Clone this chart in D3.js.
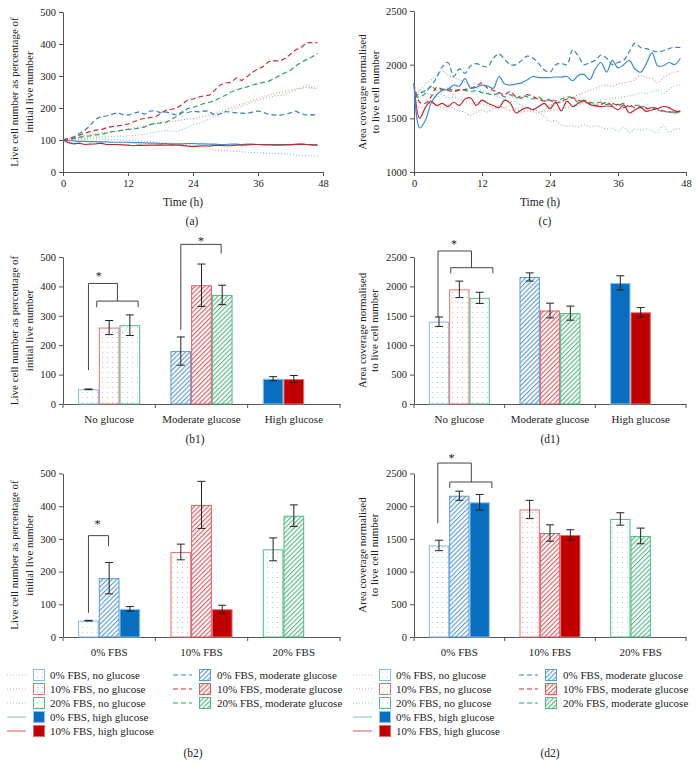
<!DOCTYPE html>
<html><head><meta charset="utf-8">
<script src="https://cdn.jsdelivr.net/npm/d3@7"></script>
<style>body{margin:0;background:#fff} svg text{font-family:"Liberation Serif","Times New Roman",serif;fill:#222}</style>
</head><body><svg id="fig" width="697" height="765"></svg>
<script>
// ---------------- DATA ----------------
const timeHours = [0,1,2,3,4,5,6,7,8,9,10,11,12,13,14,15,16,17,18,19,20,21,22,23,24,25,26,27,28,29,30,31,32,33,34,35,36,37,38,39,40,41,42,43,44,45,46,47];
const timeTicks = [0,12,24,36,48];

// (a) live cell number, % of initial
const liveBlueDot   = [100,101,101,102,102,103,103,102,102,101,101,100,99,98,97,96,95,94,93,91,90,88,87,86,84,81,77,72,69,67,66,65,64,63,62,61,60,59,58,58,57,56,55,53,52,51,50,50];
const liveRedDot    = [100,103,106,110,114,117,120,122,124,126,127,130,134,138,141,144,147,150,154,157,158,160,163,165,166,170,174,178,183,188,194,200,206,212,218,224,230,236,240,244,249,252,256,260,262,264,262,260];
const liveGreenDot  = [100,101,103,105,106,107,108,109,110,111,112,112,113,114,116,118,121,124,127,130,128,126,132,140,146,152,158,165,174,180,186,192,198,205,212,218,224,230,234,237,240,244,250,256,262,272,264,268];
const liveBlueDash  = [100,105,110,120,130,145,165,173,175,180,185,180,178,183,188,180,190,192,185,188,182,178,188,186,190,188,191,190,177,182,189,187,185,184,183,187,191,186,180,178,178,180,185,190,182,178,179,178];
const liveRedDash   = [100,104,108,115,121,126,131,132,138,142,144,146,150,157,163,168,170,172,183,193,196,199,212,225,228,234,238,240,255,272,278,280,294,286,298,312,322,330,345,348,346,355,368,382,390,404,404,404];
const liveGreenDash = [100,102,104,108,111,113,116,117,121,126,128,131,133,134,137,140,148,152,153,155,165,174,185,198,202,208,214,218,222,232,240,250,256,262,266,272,276,280,284,292,302,310,318,332,342,352,360,370];
const liveBlueSolid = [100,98,97,96,96,95,95,94,94,93,93,93,93,92,92,91,90,90,89,89,88,88,88,89,89,88,88,87,87,86,86,87,87,86,87,87,86,86,86,86,86,86,86,87,87,86,85,85];
const liveRedSolid  = [100,92,88,90,86,87,88,90,86,86,86,85,84,82,84,83,84,84,85,84,85,84,83,81,79,81,82,81,83,83,82,82,84,84,85,86,86,85,85,84,84,85,85,86,87,86,85,84];

// (c) area coverage normalised to live cell number
const areaBlueDot   = [1700,1760,1820,1860,1900,1940,1900,1880,1860,1840,1800,1780,1760,1740,1720,1700,1680,1660,1650,1620,1600,1580,1560,1520,1470,1480,1440,1430,1430,1420,1440,1420,1430,1420,1400,1410,1380,1420,1370,1400,1390,1400,1380,1370,1440,1370,1400,1400];
const areaRedDot    = [1650,1600,1620,1640,1620,1600,1620,1590,1570,1560,1530,1560,1580,1560,1590,1600,1590,1570,1580,1560,1570,1560,1550,1580,1620,1640,1650,1680,1700,1720,1740,1760,1780,1800,1810,1800,1820,1830,1840,1860,1900,1880,1870,1830,1880,1910,1930,1940];
const areaGreenDot  = [1720,1760,1740,1720,1700,1720,1690,1700,1680,1660,1640,1650,1630,1620,1610,1620,1600,1610,1590,1600,1590,1580,1570,1560,1570,1580,1590,1600,1610,1620,1640,1650,1660,1670,1680,1690,1690,1700,1710,1720,1740,1730,1750,1760,1730,1770,1800,1810];
const areaBlueDash  = [1700,1730,1760,1800,1880,1980,2020,1890,1960,1920,1990,2010,1990,1980,2060,2100,2050,2000,2000,2040,2080,2060,2010,1950,1930,2000,2010,2000,2140,2080,2000,2020,2040,2090,2060,2000,2020,2040,2120,2200,2160,2150,2130,2120,2130,2150,2160,2160];
const areaRedDash   = [1820,1650,1640,1700,1790,1770,1760,1750,1760,1770,1780,1800,1830,1780,1760,1740,1720,1750,1700,1690,1720,1700,1680,1660,1670,1640,1660,1680,1690,1670,1650,1640,1620,1630,1650,1620,1630,1600,1620,1600,1610,1590,1600,1590,1570,1560,1560,1570];
const areaGreenDash = [1700,1700,1730,1800,1760,1770,1780,1760,1770,1760,1750,1760,1740,1730,1720,1730,1700,1720,1690,1710,1700,1680,1700,1660,1680,1660,1680,1700,1690,1650,1670,1650,1640,1650,1630,1640,1620,1640,1610,1620,1620,1600,1600,1580,1560,1560,1550,1560];
const areaBlueSolid = [1820,1410,1480,1640,1720,1760,1770,1810,1800,1870,1780,1790,1810,1800,1780,1890,1820,1810,1820,1830,1860,1890,1880,1880,1880,1885,1885,1890,1850,1900,1910,1860,1960,2020,1930,2040,1970,2000,2040,1960,1930,2010,2110,1990,1990,2020,2000,2060];
const areaRedSolid  = [1830,1500,1600,1660,1620,1640,1610,1650,1620,1680,1690,1620,1670,1640,1620,1600,1670,1640,1550,1580,1600,1580,1610,1640,1590,1650,1570,1660,1610,1640,1660,1630,1615,1610,1615,1610,1580,1625,1550,1580,1600,1565,1580,1590,1610,1600,1570,1560];

// bar values (order: 0% FBS, 10% FBS, 20% FBS)
const glucoseCats = ["No glucose","Moderate glucose","High glucose"];
const fbsCats = ["0% FBS","10% FBS","20% FBS"];
const liveNoGlucose = [50,260,268];     const liveNoGlucoseErr = [1,24,35];
const liveModerate  = [180,404,371];    const liveModerateErr  = [48,72,33];
const liveHigh      = [86,85];          const liveHighErr      = [7,12];
const areaNoGlucose = [1400,1950,1805]; const areaNoGlucoseErr = [80,140,95];
const areaModerate  = [2160,1590,1545]; const areaModerateErr  = [70,125,120];
const areaHigh      = [2060,1560];      const areaHighErr      = [120,80];

const liveTicks = [0,100,200,300,400,500];
const areaTicks = [0,500,1000,1500,2000,2500];
const areaLineTicks = [1000,1500,2000,2500];

// ---------------- STYLE ----------------
const svg = d3.select("#fig");
const FONT = '"Liberation Serif","Times New Roman",serif';
const AX = "#555";
const fmt = d3.format("d");
const defs = svg.append("defs");
function dotPattern(id, color){
  const p = defs.append("pattern").attr("id",id).attr("patternUnits","userSpaceOnUse").attr("width",5).attr("height",5);
  p.append("rect").attr("width",5).attr("height",5).attr("fill","#fff");
  p.append("circle").attr("cx",2.5).attr("cy",2.5).attr("r",0.6).attr("fill",color);
}
function hatchPattern(id, color){
  const w = 3.3;
  const p = defs.append("pattern").attr("id",id).attr("patternUnits","userSpaceOnUse").attr("width",w).attr("height",w).attr("patternTransform","rotate(45)");
  p.append("rect").attr("width",w).attr("height",w).attr("fill","#fff");
  p.append("line").attr("x1",0.6).attr("y1",0).attr("x2",0.6).attr("y2",w).attr("stroke",color).attr("stroke-width",1);
}
dotPattern("dotB","#a3cbec"); dotPattern("dotR","#eba0a0"); dotPattern("dotG","#9dd8b8");
hatchPattern("hatB","#4a8fd0"); hatchPattern("hatR","#d84a50"); hatchPattern("hatG","#44b276");

const cond = {
  ngl0:  {label:"0% FBS, no glucose",        line:"#86b9e3", legLine:"#9cc6ea", dash:"1,2", fill:"url(#dotB)", stroke:"#86b9e3"},
  ngl10: {label:"10% FBS, no glucose",       line:"#e58585", legLine:"#e89a9a", dash:"1,2", fill:"url(#dotR)", stroke:"#e07272"},
  ngl20: {label:"20% FBS, no glucose",       line:"#7fcca0", legLine:"#8fd4ae", dash:"1,2", fill:"url(#dotG)", stroke:"#4fbb80"},
  mod0:  {label:"0% FBS, moderate glucose",  line:"#3a7fc4", legLine:"#3a7fc4", dash:"5,3", fill:"url(#hatB)", stroke:"#5a9bd8"},
  mod10: {label:"10% FBS, moderate glucose", line:"#c8303a", legLine:"#c8303a", dash:"5,3", fill:"url(#hatR)", stroke:"#e05a5e"},
  mod20: {label:"20% FBS, moderate glucose", line:"#2f9e62", legLine:"#2f9e62", dash:"5,3", fill:"url(#hatG)", stroke:"#4dbb80"},
  high0: {label:"0% FBS, high glucose",      line:"#3b8bd2", legLine:"#9cc6ea", dash:null,  fill:"#0a6ebf",    stroke:"#8fc3ec"},
  high10:{label:"10% FBS, high glucose",     line:"#c0262e", legLine:"#e07070", dash:null,  fill:"#c00000",    stroke:"#e07070"}
};

function styleAxis(a, size){
  a.attr("font-family",FONT).attr("font-size",size||10.5);
  a.select(".domain").attr("stroke",AX);
  a.selectAll(".tick line").attr("stroke",AX);
  a.selectAll(".tick text").attr("fill","#222");
}
function label(x,y,s,size){
  svg.append("text").attr("x",x).attr("y",y).attr("text-anchor","middle").attr("dominant-baseline","central").attr("font-size",size||11).text(s);
}
function yLabel(lines, xs, cy){
  lines.forEach((l,i)=>svg.append("text").attr("transform",`translate(${xs[i]},${cy}) rotate(-90)`)
    .attr("text-anchor","middle").attr("dominant-baseline","central").attr("font-size",11).text(l));
}

// ---------------- LINE PANELS ----------------
function linePanel(p, yDomain, yTicks, series, curve){
  const x = d3.scaleLinear().domain([0,48]).range([p.x0,p.x1]);
  const y = d3.scaleLinear().domain(yDomain).range([p.yBot,p.yTop]);
  styleAxis(svg.append("g").attr("transform",`translate(0,${p.yBot})`)
    .call(d3.axisBottom(x).tickValues(timeTicks).tickFormat(fmt).tickSize(4).tickPadding(4).tickSizeOuter(0)));
  styleAxis(svg.append("g").attr("transform",`translate(${p.x0},0)`)
    .call(d3.axisLeft(y).tickValues(yTicks).tickFormat(fmt).tickSize(4).tickPadding(3).tickSizeOuter(0)));
  const line = d3.line().x((d,i)=>x(timeHours[i])).y(d=>y(d)).curve(curve);
  series.forEach(s=>{
    const c = cond[s.c];
    svg.append("path").attr("d",line(s.v)).attr("fill","none").attr("stroke",c.line)
      .attr("stroke-width",s.c.startsWith("ngl")?1.1:1.2).attr("stroke-dasharray",c.dash);
  });
}
const PA = {x0:63,x1:323,yTop:12,yBot:172};
const PC = {x0:414,x1:686,yTop:11,yBot:172};
linePanel(PA,[0,500],liveTicks,[
  {c:"ngl0",v:liveBlueDot},{c:"ngl20",v:liveGreenDot},{c:"ngl10",v:liveRedDot},
  {c:"high0",v:liveBlueSolid},{c:"high10",v:liveRedSolid},
  {c:"mod0",v:liveBlueDash},{c:"mod20",v:liveGreenDash},{c:"mod10",v:liveRedDash}
], d3.curveLinear);
linePanel(PC,[1000,2500],areaLineTicks,[
  {c:"ngl0",v:areaBlueDot},{c:"ngl20",v:areaGreenDot},{c:"ngl10",v:areaRedDot},
  {c:"mod20",v:areaGreenDash},{c:"mod10",v:areaRedDash},{c:"mod0",v:areaBlueDash},
  {c:"high10",v:areaRedSolid},{c:"high0",v:areaBlueSolid}
], d3.curveCatmullRom.alpha(0.5));
yLabel(["Live cell number as percentage of","initial live number"],[13.5,29],92);
yLabel(["Area coverage normalised","to live cell number"],[362,375],92);
label(183,202,"Time (h)",11.5); label(540,202,"Time (h)",11.5);
label(192,221,"(a)",11.5); label(545,221,"(c)",11.5);

// ---------------- BAR PANELS ----------------
function barPanel(p, cats, groups, yDomain, yTicks){
  const x = d3.scaleBand().domain(cats).range([p.x0,p.x1]).padding(0);
  const xs = d3.scaleBand().domain([0,1,2]).range([0,x.bandwidth()]).paddingInner(0).paddingOuter(0.73);
  const y = d3.scaleLinear().domain(yDomain).range([p.yBot,p.yTop]);
  const gx = svg.append("g").attr("transform",`translate(0,${p.yBot})`)
    .call(d3.axisBottom(x).tickSize(0).tickPadding(11).tickSizeOuter(0));
  styleAxis(gx, 11);
  const bounds = cats.map(c=>x(c)).concat([p.x1]);
  svg.append("g").selectAll("line").data(bounds).join("line")
    .attr("x1",d=>d).attr("x2",d=>d).attr("y1",p.yBot).attr("y2",p.yBot+4).attr("stroke",AX);
  styleAxis(svg.append("g").attr("transform",`translate(${p.x0},0)`)
    .call(d3.axisLeft(y).tickValues(yTicks).tickFormat(fmt).tickSize(4).tickPadding(3).tickSizeOuter(0)));
  groups.forEach(g=>{
    g.items.forEach((it,i)=>{
      const c = cond[it.c];
      const bx = x(g.cat)+xs(i);
      svg.append("rect").attr("x",bx+0.5).attr("y",y(it.v)+0.5).attr("width",xs.bandwidth()-1)
        .attr("height",y(0)-y(it.v)-0.5).attr("fill",c.fill).attr("stroke",c.stroke).attr("stroke-width",1);
      const cx = bx+xs.bandwidth()/2;
      const eg = svg.append("g").attr("stroke","#222").attr("stroke-width",1);
      eg.append("line").attr("x1",cx).attr("x2",cx).attr("y1",y(it.v-it.e)).attr("y2",y(it.v+it.e));
      [it.v-it.e, it.v+it.e].forEach(v=>eg.append("line").attr("x1",cx-4).attr("x2",cx+4).attr("y1",y(v)).attr("y2",y(v)));
    });
  });
  return {x,xs,y};
}
function bracket(sc, b){
  const X = s => sc.x(b.cat)+sc.xs(0)+s*sc.xs.step();
  const y = sc.y;
  const g = svg.append("g").attr("fill","none").attr("stroke","#444").attr("stroke-width",1);
  g.append("path").attr("d",`M${X(b.from)},${y(b.leftBottom)}V${y(b.top)}H${X(b.to)}V${y(b.rightBottom)}`);
  if(b.lower){
    const L = b.lower;
    g.append("path").attr("d",`M${X(L.from)},${y(L.legBottom)}V${y(L.level)}H${X(L.to)}V${y(L.legBottom)}`);
  }
  svg.append("text").attr("x",X(b.star)).attr("y",y(b.starLevel)+5).attr("text-anchor","middle").attr("font-size",12).text("*");
}

const PB1 = {x0:63,x1:340,yTop:257,yBot:404};
const PD1 = {x0:414,x1:686,yTop:257,yBot:404};
const PB2 = {x0:63,x1:340,yTop:473.5,yBot:637};
const PD2 = {x0:414,x1:686,yTop:473.5,yBot:637};

function byGlucose(ngl,nglE,mod,modE,hi,hiE){
  return [
    {cat:glucoseCats[0], items:[{c:"ngl0",v:ngl[0],e:nglE[0]},{c:"ngl10",v:ngl[1],e:nglE[1]},{c:"ngl20",v:ngl[2],e:nglE[2]}]},
    {cat:glucoseCats[1], items:[{c:"mod0",v:mod[0],e:modE[0]},{c:"mod10",v:mod[1],e:modE[1]},{c:"mod20",v:mod[2],e:modE[2]}]},
    {cat:glucoseCats[2], items:[{c:"high0",v:hi[0],e:hiE[0]},{c:"high10",v:hi[1],e:hiE[1]}]}
  ];
}
function byFbs(ngl,nglE,mod,modE,hi,hiE){
  return [
    {cat:fbsCats[0], items:[{c:"ngl0",v:ngl[0],e:nglE[0]},{c:"mod0",v:mod[0],e:modE[0]},{c:"high0",v:hi[0],e:hiE[0]}]},
    {cat:fbsCats[1], items:[{c:"ngl10",v:ngl[1],e:nglE[1]},{c:"mod10",v:mod[1],e:modE[1]},{c:"high10",v:hi[1],e:hiE[1]}]},
    {cat:fbsCats[2], items:[{c:"ngl20",v:ngl[2],e:nglE[2]},{c:"mod20",v:mod[2],e:modE[2]}]}
  ];
}

const sB1 = barPanel(PB1, glucoseCats, byGlucose(liveNoGlucose,liveNoGlucoseErr,liveModerate,liveModerateErr,liveHigh,liveHighErr),[0,500],liveTicks);
const sD1 = barPanel(PD1, glucoseCats, byGlucose(areaNoGlucose,areaNoGlucoseErr,areaModerate,areaModerateErr,areaHigh,areaHighErr),[0,2500],areaTicks);
const sB2 = barPanel(PB2, fbsCats, byFbs(liveNoGlucose,liveNoGlucoseErr,liveModerate,liveModerateErr,liveHigh,liveHighErr),[0,500],liveTicks);
const sD2 = barPanel(PD2, fbsCats, byFbs(areaNoGlucose,areaNoGlucoseErr,areaModerate,areaModerateErr,areaHigh,areaHighErr),[0,2500],areaTicks);

bracket(sB1,{cat:"No glucose",from:0.5,to:1.9,top:410,leftBottom:115,rightBottom:350,star:1.0,starLevel:439,
  lower:{from:0.9,to:2.9,level:350,legBottom:329}});
bracket(sB1,{cat:"Moderate glucose",from:0.5,to:2.45,top:543,leftBottom:252,rightBottom:512,star:1.48,starLevel:558});
bracket(sD1,{cat:"No glucose",from:0.45,to:2.1,top:2602,leftBottom:1474,rightBottom:2318,star:1.24,starLevel:2743,
  lower:{from:1.08,to:3.15,level:2318,legBottom:2223}});
bracket(sB2,{cat:"0% FBS",from:0.5,to:1.47,top:310,leftBottom:74,rightBottom:278,star:0.94,starLevel:349});
bracket(sD2,{cat:"0% FBS",from:0.44,to:2.09,top:2660,leftBottom:1739,rightBottom:2370,star:1.12,starLevel:2750,
  lower:{from:1.03,to:3.1,level:2370,legBottom:2278}});

yLabel(["Live cell number as percentage of","initial live number"],[13.5,29],330.5);
yLabel(["Area coverage normalised","to live cell number"],[362,374],330.5);
yLabel(["Live cell number as percentage of","initial live number"],[13.5,29],555);
yLabel(["Area coverage normalised","to live cell number"],[362,374],555);
label(195,439,"(b1)",11.5); label(550,439,"(d1)",11.5);
label(193,753,"(b2)",11.5); label(550,753,"(d2)",11.5);

// ---------------- LEGENDS ----------------
function legend(ox){
  const cols = [
    {keys:["ngl0","ngl10","ngl20","high0","high10"], lx0:7, lx1:26, bx:33, tx:50},
    {keys:["mod0","mod10","mod20"], lx0:173, lx1:192, bx:199, tx:217}
  ];
  cols.forEach(col=>col.keys.forEach((k,i)=>{
    const c = cond[k]; const yy = 675+i*14;
    svg.append("line").attr("x1",ox+col.lx0).attr("x2",ox+col.lx1).attr("y1",yy).attr("y2",yy)
      .attr("stroke",c.legLine).attr("stroke-width",1.2).attr("stroke-dasharray",c.dash);
    svg.append("rect").attr("x",ox+col.bx+0.5).attr("y",yy-5.5).attr("width",11).attr("height",11)
      .attr("fill",c.fill).attr("stroke",c.stroke);
    svg.append("text").attr("x",ox+col.tx).attr("y",yy).attr("dominant-baseline","central")
      .attr("font-size",11).text(c.label);
  }));
}
legend(0); legend(346);
</script></body></html>
